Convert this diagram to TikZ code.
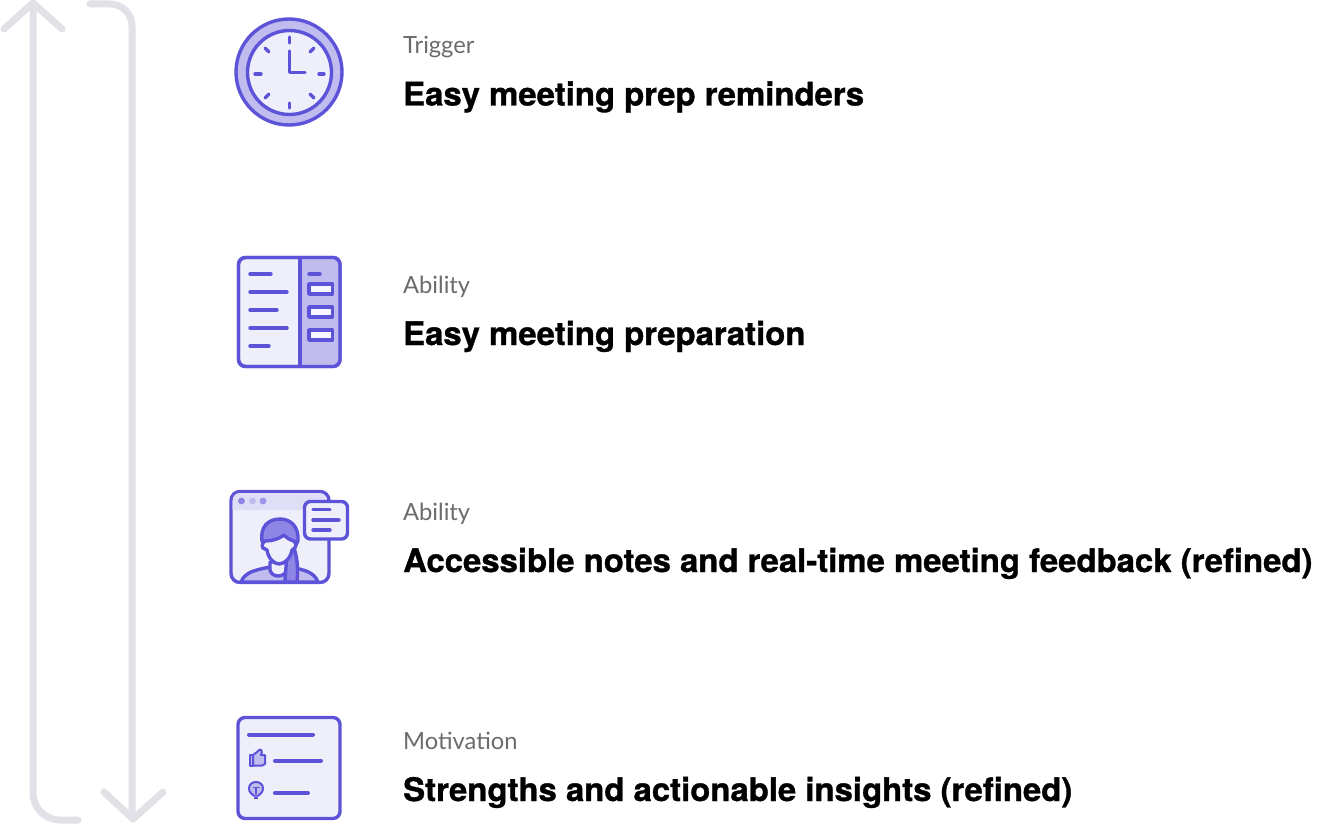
\documentclass[tikz,border=0pt]{standalone}
\usepackage{fontspec}
\setmainfont{Lato}
\newfontfamily\headfont[FakeBold=1,FakeStretch=1.015,Ligatures=NoCommon]{TeX Gyre Heros Bold}
\definecolor{ink}{HTML}{5D53D9}
\definecolor{midv}{HTML}{C1BCEE}
\definecolor{lite}{HTML}{EFEFFB}
\definecolor{paper}{HTML}{F8F7FE}
\definecolor{bar}{HTML}{E0DEF7}
\definecolor{dark}{HTML}{8E85E5}
\definecolor{rail}{HTML}{E1E1E8}
\definecolor{cap}{HTML}{6B6B6B}
\tikzset{
  x=1pt,y=-1pt,
  railline/.style={draw=rail,line width=7pt,line cap=round,line join=round},
  icon/.style={draw=ink,line width=3.4pt,line join=round},
  tick/.style={draw=ink,line width=3.4pt,line cap=round},
  sublabel/.style={anchor=base west,inner sep=0pt,text=cap,font=\fontsize{23.7}{28}\selectfont},
  headlabel/.style={anchor=base west,inner sep=0pt,text=black,font=\headfont\fontsize{32.4}{38}\selectfont},
}
\begin{document}
\begin{tikzpicture}
\useasboundingbox (0,0) rectangle (1319,824);
% rails
\draw[railline] (78,820) -- (60,820) arc[start angle=90,end angle=180,radius=27] -- (33,3);
\draw[railline] (4,29) -- (33,3) -- (62,29);
\draw[railline] (90,4) -- (110,4) arc[start angle=-90,end angle=0,radius=22] -- (132,818);
\draw[railline] (104,792) -- (133,819) -- (163,792);
% clock
\draw[icon,fill=midv] (289,72) circle[radius=53];
\draw[icon,fill=lite] (289.5,72.5) circle[radius=42];
\foreach \a/\b/\c/\d in {289.5/37/289.5/43, 289.5/103/289.5/108, 255/74/261/74, 319/74/324/74, 265/48/269/52, 314/48/310/52, 269/94/265/98, 310/94/314/98}
  \draw[tick] (\a,\b) -- (\c,\d);
\draw[tick,line join=round] (289.5,51) -- (289.5,72.5) -- (305,72.5);
% document
\draw[icon,fill=lite,rounded corners=7pt] (238.5,257.5) rectangle (340,366.5);
\fill[midv,rounded corners=6pt] (300,258.5) rectangle (338.5,365.5);
\fill[midv] (300,258.5) rectangle (320,365.5);
\draw[icon,rounded corners=7pt] (238.5,257.5) rectangle (340,366.5);
\draw[icon] (300,257) -- (300,366);
\foreach \y/\e in {274/271, 292/287, 310/277, 328/287, 346/269}
  \draw[tick] (250,\y) -- (\e,\y);
\draw[tick] (309,274) -- (320,274);
\foreach \y in {284,307,330}
  \draw[icon,fill=paper] (309,\y) rectangle (332.5,\y+10);
% person
\draw[icon,fill=lite,rounded corners=9pt] (231,491.5) rectangle (329,582.5);
\fill[bar] (232.7,510) -- (232.7,500) arc[start angle=180,end angle=270,radius=7] -- (320,493.2) arc[start angle=-90,end angle=0,radius=7] -- (327.3,510) -- cycle;
\fill[dark] (241.5,501) circle[radius=3.4];
\fill[midv] (252.5,501) circle[radius=3.4];
\fill[dark!70!midv] (263,501) circle[radius=3.4];
\draw[icon,fill=midv] (241,582) .. controls (245,572) and (255,570) .. (270,567) -- (290,567) .. controls (305,570) and (314,572) .. (318,582) -- cycle;
\draw[icon,fill=lite] (270,562) -- (270,570) .. controls (272,578) and (284,578) .. (287,570) -- (287,562) -- cycle;
\draw[icon,fill=dark] (294,548) .. controls (298,560) and (298,572) .. (297,582) -- (285,582) .. controls (285,574) and (287,564) .. (286,555) -- cycle;
\draw[icon,fill=dark] (262,541) .. controls (260,527) and (268,519) .. (280,519) .. controls (291,519) and (299,527) .. (298,541) -- (294,548) -- (266,548) -- cycle;
\draw[icon,fill=lite] (265,541) .. controls (272,541) and (279,539) .. (284,535) .. controls (287,538) and (290,540) .. (294,541) .. controls (296,543) and (297,546) .. (295,548) -- (292,550) .. controls (291,558) and (284,564) .. (279,564) .. controls (274,564) and (268,558) .. (267,550) -- (263,548) .. controls (261,546) and (263,542) .. (265,541) -- cycle;
\draw[icon,fill=lite,rounded corners=6pt] (304.5,501.5) rectangle (347.5,539);
\draw[tick] (313,509.5) -- (330,509.5);
\draw[tick] (313,520) -- (339,520);
\draw[tick] (313,530) -- (330,530);
% feedback
\draw[icon,fill=lite,rounded corners=7pt] (238,717.5) rectangle (340,818.5);
\draw[tick,line width=4pt] (249,734.5) -- (313,734.5);
\draw[tick,line width=4pt] (275,760.5) -- (321,760.5);
\draw[tick,line width=4pt] (275,793) -- (308,793);
\draw[draw=ink,line width=2pt,fill=midv,line join=round] (250,755) -- (253,755) -- (253,765.5) -- (250,765.5) -- cycle;
\draw[draw=ink,line width=2pt,fill=midv,line join=round] (253,755) -- (257,752) -- (259,750) .. controls (261,748.5) and (263,751) .. (261,755) -- (265,755) -- (265,764) -- (262,765.5) -- (253,765.5) -- cycle;
\draw[draw=ink,line width=2pt,fill=midv,line join=round] (253.5,795.5) .. controls (249,792) and (249,790) .. (249,788.5) .. controls (249,784.5) and (252,782) .. (256,782) .. controls (260,782) and (263,784.5) .. (263,788.5) .. controls (263,790) and (263,792) .. (258.5,795.5) -- cycle;
\draw[ink,line width=2.5pt] (253.8,798) -- (258.2,798);
\draw[ink,line width=1.8pt] (252.5,787.5) -- (259.5,787.5) (256,787.5) -- (256,794);
% text
\node[sublabel] (t1) at (403,54) {Trigger};
\node[headlabel] (h1) at (403,105.5) {Easy meeting prep reminders};
\node[sublabel] (t2) at (403,293) {Ability};
\node[headlabel] (h2) at (403,345) {Easy meeting preparation};
\node[sublabel] (t3) at (403,520) {Ability};
\node[headlabel] (h3) at (403,572) {Accessible notes and real-time meeting feedback (refined)};
\node[sublabel] (t4) at (403,749) {Motivation};
\node[headlabel] (h4) at (403,801) {Strengths and actionable insights (refined)};
\end{tikzpicture}
\end{document}
